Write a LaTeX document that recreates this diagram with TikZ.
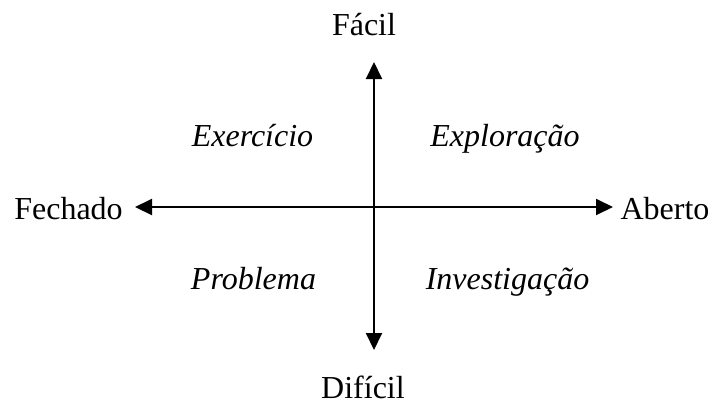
\documentclass[tikz,border=0pt]{standalone}
\usepackage{fontspec}
\setmainfont{Liberation Serif}
\usetikzlibrary{arrows.meta}
\begin{document}
\begin{tikzpicture}[x=1pt,y=-1pt,
  lbl/.style={font=\fontsize{32}{38}\selectfont, inner sep=0pt, anchor=base},
  quad/.style={lbl, font=\fontsize{32}{38}\selectfont\itshape},
  axis/.style={line width=2pt, -{Triangle[length=17pt,width=16pt]}}]
\useasboundingbox (0,0) rectangle (710,405);
\coordinate (c) at (374,207);
\coordinate (top) at (374,62);
\coordinate (bot) at (374,350);
\coordinate (left) at (135,207);
\coordinate (right) at (613,207);
\draw[axis] (c) -- (top);
\draw[axis] (c) -- (bot);
\draw[axis] (c) -- (left);
\draw[axis] (c) -- (right);
\node[lbl] (facil) at (364,35) {Fácil};
\node[lbl] (dificil) at (363,398) {Difícil};
\node[lbl] (fechado) at (68.5,219) {Fechado};
\node[lbl] (aberto) at (665,219) {Aberto};
\node[quad] (exerc) at (252.5,146) {Exercício};
\node[quad] (explor) at (505,146) {Exploração};
\node[quad] (probl) at (253.5,289) {Problema};
\node[quad] (invest) at (507.5,289) {Investigação};
\end{tikzpicture}
\end{document}
